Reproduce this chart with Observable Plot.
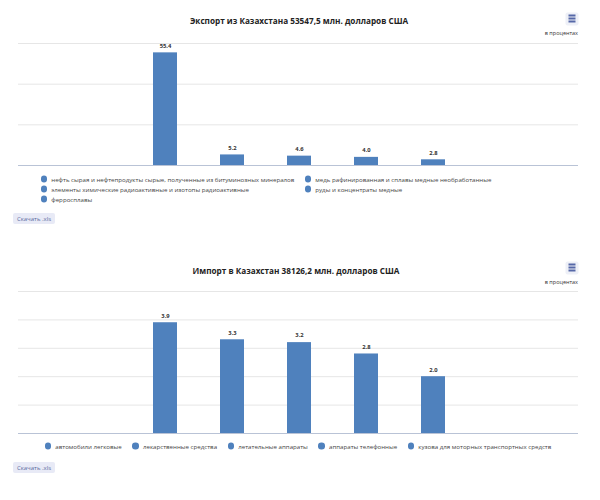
<!DOCTYPE html>
<html><head><meta charset="utf-8">
<script src="https://cdn.jsdelivr.net/npm/d3@7"></script>
<script src="https://cdn.jsdelivr.net/npm/@observablehq/plot@0.6"></script>
<style>
body{margin:0;background:#fff;font-family:"Open Sans",sans-serif;}
#page{position:relative;width:600px;height:500px;overflow:hidden;}
.abs{position:absolute;}
.title{font-weight:bold;font-size:8.2px;color:#222;white-space:nowrap;transform:translate(-50%,-50%);}
.menu{width:13px;height:13px;background:#eef0f7;border-radius:2px;transform:translate(-50%,-50%);}
.menu span{position:absolute;left:3px;width:7px;height:1.4px;background:#5668a8;}
.unit{font-size:5.5px;color:#333;transform:translate(-100%,-50%);white-space:nowrap;}
.leg{font-size:6.15px;color:#444;white-space:nowrap;display:flex;align-items:center;transform:translateY(-50%);}
.dot{width:6.6px;height:6.6px;border-radius:50%;background:#4f81bd;margin-right:4px;flex:none;}
.btn{background:#e8eaf6;color:#5a6aa0;font-size:6px;border-radius:2px;display:flex;align-items:center;justify-content:center;}
</style></head>
<body><div id="page"></div>
<script>
const exportTitle = "Экспорт из Казахстана 53547,5 млн. долларов США";
const importTitle = "Импорт в Казахстан 38126,2 млн. долларов США";
const unitLabel = "в процентах";
const buttonLabel = "Скачать .xls";

const exportCategories = [
  "нефть сырая и нефтепродукты сырые, полученные из битуминозных минералов",
  "медь рафинированная и сплавы медные необработанные",
  "элементы химические радиоактивные и изотопы радиоактивные",
  "руды и концентраты медные",
  "ферросплавы"
];
const exportValues = [55.4, 5.2, 4.6, 4.0, 2.8];
const exportTicks = [20, 40, 60];

const importCategories = [
  "автомобили легковые",
  "лекарственные средства",
  "летательные аппараты",
  "аппараты телефонные",
  "кузова для моторных транспортных средств"
];
const importValues = [3.9, 3.3, 3.2, 2.8, 2.0];
const importTicks = [1, 2, 3, 4, 5];

const BAR = "#4f81bd";
const page = document.getElementById("page");

function el(cls, css, text) {
  const d = document.createElement("div");
  d.className = "abs " + cls;
  Object.assign(d.style, css);
  if (text != null) d.textContent = text;
  page.appendChild(d);
  return d;
}
function menu(x, y) {
  const m = el("menu", {left: x + "px", top: y + "px"});
  [3, 6, 9].forEach(t => {
    const s = document.createElement("span");
    s.style.top = (t - 0.7) + "px";
    m.appendChild(s);
  });
}
function chart(cats, vals, ticks, ymax, top, height, mTop, mBottom) {
  const data = cats.map((c, i) => ({cat: c, value: vals[i]}));
  const svg = Plot.plot({
    width: 600, height,
    marginLeft: 18, marginRight: 22, marginTop: mTop, marginBottom: mBottom,
    style: {fontFamily: "Open Sans", background: "transparent"},
    x: {type: "band", domain: cats, range: [130.8, 466.8], paddingInner: 0.643, paddingOuter: 0.3215, axis: null},
    y: {domain: [0, ymax], axis: null},
    marks: [
      Plot.ruleY(ticks, {stroke: "#e6e6e6", strokeWidth: 1}),
      Plot.barY(data, {x: "cat", y: "value", fill: BAR}),
      Plot.ruleY([0], {stroke: "#b9c3d6", strokeWidth: 1.2}),
      Plot.text(data, {x: "cat", y: "value", text: d => d.value.toFixed(1), dy: -7,
        fontWeight: "bold", fontSize: 5.8, fill: "#333"})
    ]
  });
  const holder = el("", {left: "0px", top: top + "px"});
  holder.appendChild(svg);
}

// Chart 1
el("title", {left: "299px", top: "20px"}, exportTitle);
menu(572, 19);
el("unit", {left: "578px", top: "33px"}, unitLabel);
chart(exportCategories, exportValues, exportTicks, 60, 30, 140, 13, 5);
exportCategories.forEach((c, i) => {
  const col = i % 2, row = Math.floor(i / 2);
  const it = el("leg", {left: (col ? 304.7 : 40.7) + "px", top: (179 + row * 10) + "px"});
  const d = document.createElement("div"); d.className = "dot"; it.appendChild(d);
  const s = document.createElement("span"); s.textContent = c; it.appendChild(s);
});
el("btn", {left: "13px", top: "213px", width: "42px", height: "11px"}, buttonLabel);

// Chart 2
el("title", {left: "296px", top: "270px"}, importTitle);
menu(572, 268);
el("unit", {left: "578px", top: "282px"}, unitLabel);
chart(importCategories, importValues, importTicks, 5, 285, 153, 6, 5);
const row2 = el("", {left: "0px", width: "596px", top: "446px", display: "flex", justifyContent: "center", transform: "translateY(-50%)"});
importCategories.forEach((c, i) => {
  const it = document.createElement("div");
  it.className = "leg";
  it.style.transform = "none";
  it.style.marginRight = i < importCategories.length - 1 ? "10.6px" : "0";
  const d = document.createElement("div"); d.className = "dot"; it.appendChild(d);
  const s = document.createElement("span"); s.textContent = c; it.appendChild(s);
  row2.appendChild(it);
});
el("btn", {left: "13px", top: "462px", width: "42px", height: "11px"}, buttonLabel);
</script></body></html>
